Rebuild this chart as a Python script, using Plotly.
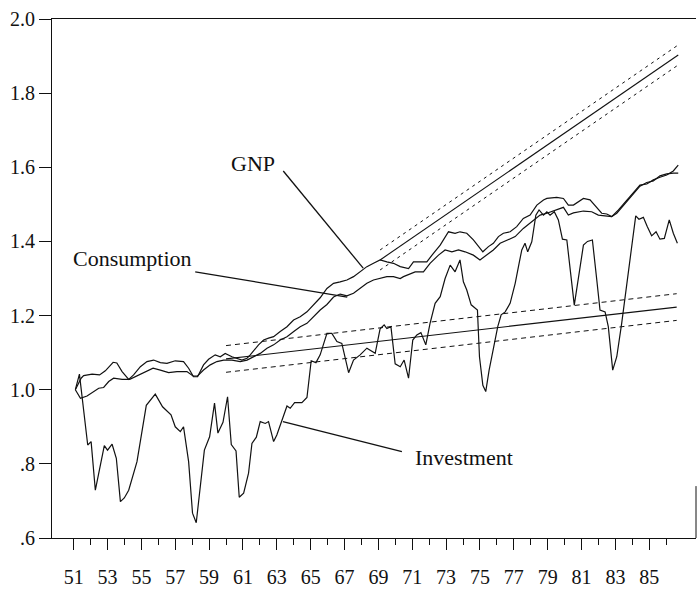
import plotly.graph_objects as go

# ---------------- data ----------------
gnp_years = [51.10, 51.44, 51.59, 52.09, 52.53, 52.87, 53.33, 53.55, 53.86, 54.25, 54.54, 54.94,
             55.33, 55.72, 56.12, 56.51, 57.00, 57.49, 57.79, 58.08, 58.32, 58.67, 58.97, 59.36,
             59.66, 59.95, 60.35, 60.65, 60.94, 61.24, 61.43, 61.92, 62.22, 62.51, 62.81, 63.20,
             63.60, 63.99, 64.38, 64.78, 65.17, 65.56, 65.96, 66.35, 66.74, 67.14, 67.53, 67.92,
             68.32, 68.71, 69.10, 69.50, 69.89, 70.29, 70.78, 71.07, 71.47, 71.86, 72.25, 72.65,
             73.14, 73.53, 73.82, 74.22, 74.61, 74.91, 75.17, 75.50, 75.79, 76.09, 76.38, 76.78,
             77.17, 77.56, 77.96, 78.36, 78.75, 78.95, 79.53, 79.93, 80.22, 80.52, 81.11, 81.50,
             82.19, 82.49, 82.78, 83.18, 83.67, 84.06, 84.45, 84.85, 85.24, 85.63, 86.03, 86.42,
             86.71]
gnp = [1.000, 1.031, 1.038, 1.042, 1.040, 1.051, 1.074, 1.072, 1.049, 1.028, 1.040, 1.062,
       1.076, 1.080, 1.073, 1.071, 1.078, 1.076, 1.058, 1.035, 1.035, 1.067, 1.082, 1.094,
       1.089, 1.098, 1.089, 1.085, 1.080, 1.085, 1.094, 1.121, 1.134, 1.139, 1.143, 1.157,
       1.170, 1.188, 1.197, 1.210, 1.228, 1.248, 1.273, 1.287, 1.291, 1.296, 1.305, 1.318,
       1.332, 1.341, 1.350, 1.345, 1.341, 1.332, 1.327, 1.345, 1.345, 1.345, 1.368, 1.390,
       1.426, 1.422, 1.426, 1.422, 1.404, 1.386, 1.372, 1.386, 1.395, 1.413, 1.422, 1.426,
       1.440, 1.462, 1.471, 1.498, 1.512, 1.516, 1.519, 1.516, 1.498, 1.498, 1.516, 1.512,
       1.476, 1.474, 1.467, 1.485, 1.512, 1.533, 1.552, 1.555, 1.566, 1.573, 1.579, 1.590,
       1.606]

cons_years = [51.10, 51.40, 51.79, 52.18, 52.48, 52.77, 53.07, 53.36, 53.86, 54.31, 54.74, 55.23,
              55.69, 56.12, 56.61, 57.10, 57.69, 58.05, 58.32, 58.67, 59.07, 59.46, 59.86, 60.35,
              60.84, 61.24, 61.63, 62.02, 62.42, 62.81, 63.20, 63.60, 64.00, 64.38, 64.78, 65.17,
              65.56, 65.96, 66.35, 66.74, 67.14, 67.53, 67.92, 68.32, 68.71, 69.10, 69.50, 69.89,
              70.29, 70.48, 71.17, 71.66, 72.05, 72.55, 72.94, 73.34, 73.73, 74.12, 74.61, 75.00,
              75.40, 75.79, 76.19, 76.68, 77.08, 77.56, 78.06, 78.55, 78.95, 79.53, 79.93, 80.22,
              80.52, 81.11, 81.60, 81.99, 82.49, 82.78, 83.08, 83.57, 84.06, 84.45, 84.85, 85.24,
              85.63, 86.03, 86.42, 86.71]
consumption = [1.000, 0.977, 0.983, 0.995, 1.004, 1.006, 1.022, 1.031, 1.028, 1.028, 1.037, 1.049,
               1.058, 1.053, 1.046, 1.049, 1.049, 1.037, 1.037, 1.053, 1.067, 1.076, 1.080, 1.080,
               1.076, 1.080, 1.089, 1.098, 1.112, 1.121, 1.134, 1.143, 1.157, 1.170, 1.179, 1.197,
               1.215, 1.230, 1.250, 1.258, 1.253, 1.260, 1.273, 1.287, 1.296, 1.300, 1.305, 1.305,
               1.300, 1.305, 1.318, 1.318, 1.341, 1.363, 1.377, 1.372, 1.377, 1.372, 1.363, 1.350,
               1.363, 1.377, 1.395, 1.404, 1.413, 1.435, 1.453, 1.471, 1.476, 1.485, 1.492, 1.471,
               1.477, 1.482, 1.480, 1.471, 1.469, 1.467, 1.476, 1.503, 1.530, 1.549, 1.559, 1.563,
               1.577, 1.582, 1.584, 1.584]

inv_years = [51.10, 51.34, 51.83, 52.03, 52.28, 52.81, 53.00, 53.27, 53.52, 53.76, 53.99, 54.25,
             54.74, 55.29, 55.82, 56.25, 56.75, 57.00, 57.30, 57.49, 57.79, 58.02, 58.24, 58.72,
             59.03, 59.32, 59.52, 59.82, 60.09, 60.31, 60.59, 60.78, 61.04, 61.33, 61.53, 61.79,
             62.02, 62.32, 62.51, 62.81, 63.00, 63.30, 63.60, 63.79, 64.05, 64.48, 64.78, 65.03,
             65.31, 65.56, 65.96, 66.25, 66.55, 66.84, 67.24, 67.53, 67.92, 68.32, 68.61, 68.81,
             69.10, 69.34, 69.50, 69.74, 69.99, 70.29, 70.52, 70.78, 71.03, 71.27, 71.51, 71.80,
             72.05, 72.35, 72.65, 72.94, 73.24, 73.53, 73.82, 74.02, 74.22, 74.48, 74.85, 74.97,
             75.17, 75.34, 75.54, 75.70, 75.89, 76.05, 76.25, 76.49, 76.78, 77.08, 77.31, 77.47,
             77.66, 77.82, 78.06, 78.30, 78.49, 78.75, 78.95, 79.14, 79.39, 79.63, 79.87, 80.13,
             80.57, 80.91, 81.11, 81.35, 81.64, 81.90, 82.09, 82.39, 82.58, 82.84, 83.08, 83.37,
             84.20, 84.39, 84.65, 84.88, 85.14, 85.40, 85.63, 85.89, 86.18, 86.42, 86.66]
investment = [1.000, 1.042, 0.851, 0.860, 0.729, 0.849, 0.837, 0.853, 0.815, 0.698, 0.708, 0.729,
              0.806, 0.958, 0.988, 0.954, 0.932, 0.900, 0.887, 0.900, 0.806, 0.667, 0.641, 0.837,
              0.873, 0.964, 0.883, 0.912, 0.981, 0.852, 0.835, 0.710, 0.721, 0.775, 0.855, 0.872,
              0.914, 0.909, 0.914, 0.860, 0.878, 0.918, 0.956, 0.950, 0.965, 0.965, 0.979, 1.078,
              1.073, 1.094, 1.152, 1.152, 1.130, 1.125, 1.046, 1.080, 1.094, 1.112, 1.103, 1.098,
              1.164, 1.175, 1.165, 1.170, 1.070, 1.062, 1.080, 1.031, 1.134, 1.148, 1.154, 1.121,
              1.179, 1.233, 1.251, 1.300, 1.336, 1.318, 1.350, 1.291, 1.269, 1.229, 1.215, 1.089,
              1.012, 0.995, 1.053, 1.089, 1.129, 1.170, 1.202, 1.210, 1.233, 1.287, 1.341, 1.377,
              1.395, 1.372, 1.399, 1.471, 1.485, 1.471, 1.480, 1.471, 1.480, 1.458, 1.406, 1.404,
              1.228, 1.332, 1.390, 1.400, 1.404, 1.296, 1.215, 1.210, 1.170, 1.053, 1.089, 1.179,
              1.469, 1.460, 1.465, 1.440, 1.415, 1.426, 1.406, 1.408, 1.458, 1.422, 1.395]

gnp_trend_years = [69.10, 86.71]
gnp_trend = [1.350, 1.903]
gnp_band = 0.027

inv_trend_years = [60.00, 86.62]
inv_trend = [1.083, 1.223]
inv_band = 0.036

y_tickvals = [0.6, 0.8, 1.0, 1.2, 1.4, 1.6, 1.8, 2.0]
y_ticktext = [".6", ".8", "1.0", "1.2", "1.4", "1.6", "1.8", "2.0"]
x_major = list(range(51, 86, 2))
x_minor = list(range(52, 87, 2))
x_ticktext = [str(v) for v in x_major]

FONT = "Liberation Serif"
BLACK = "#111111"

fig = go.Figure()

def add_line(x, y, width=1.2, dash="solid"):
    fig.add_trace(go.Scatter(x=x, y=y, mode="lines", showlegend=False, hoverinfo="skip",
                             line=dict(color=BLACK, width=width, dash=dash)))

# trend lines with bands
add_line(gnp_trend_years, gnp_trend, 1.1)
add_line(gnp_trend_years, [v + gnp_band for v in gnp_trend], 1.0, "3px,4px")
add_line(gnp_trend_years, [v - gnp_band for v in gnp_trend], 1.0, "3px,4px")
add_line(inv_trend_years, inv_trend, 1.2)
add_line(inv_trend_years, [v + inv_band for v in inv_trend], 1.0, "5px,4px")
add_line(inv_trend_years, [v - inv_band for v in inv_trend], 1.0, "5px,4px")

# series
add_line(gnp_years, gnp, 1.2)
add_line(cons_years, consumption, 1.2)
add_line(inv_years, investment, 1.2)

# labels with pointer lines
labels = [
    ("GNP", 61.61, 1.609, 63.38, 1.590, 68.10, 1.328),
    ("Consumption", 54.46, 1.355, 58.18, 1.318, 67.16, 1.250),
    ("Investment", 74.07, 0.818, 63.36, 0.914, 70.39, 0.833),
]
for text, tx, ty, x0, y0, x1, y1 in labels:
    fig.add_annotation(x=tx, y=ty, xref="x", yref="y", text=text, showarrow=False,
                       font=dict(family=FONT, size=22, color=BLACK))
    fig.add_shape(type="line", xref="x", yref="y", x0=x0, y0=y0, x1=x1, y1=y1,
                  line=dict(color=BLACK, width=1.3))

# partial right frame edge
fig.add_shape(type="line", xref="paper", yref="y", x0=1, x1=1, y0=0.6, y1=0.74,
              line=dict(color=BLACK, width=1))

fig.update_layout(
    width=697, height=593,
    margin=dict(l=52, r=1, t=19, b=55, autoexpand=False),
    paper_bgcolor="white", plot_bgcolor="white",
    font=dict(family=FONT, size=20, color=BLACK),
    showlegend=False,
)
fig.update_xaxes(
    range=[49.72, 87.76], showgrid=False, zeroline=False, automargin=False,
    showline=True, linecolor=BLACK, linewidth=1, mirror=True,
    tickmode="array", tickvals=x_major, ticktext=x_ticktext,
    ticks="outside", ticklen=11, tickwidth=1, tickcolor=BLACK,
    ticklabelstandoff=10,
    minor=dict(tickmode="array", tickvals=x_minor, ticks="outside", ticklen=6,
               tickwidth=1, tickcolor=BLACK, showgrid=False),
    tickfont=dict(family=FONT, size=20, color=BLACK),
)
fig.update_yaxes(
    range=[0.6, 2.0], showgrid=False, zeroline=False, automargin=False,
    showline=True, linecolor=BLACK, linewidth=1,
    tickmode="array", tickvals=y_tickvals, ticktext=y_ticktext,
    ticks="outside", ticklen=12, tickwidth=1, tickcolor=BLACK,
    tickfont=dict(family=FONT, size=20, color=BLACK),
)

fig.write_html("out.html", config={"displayModeBar": False},
               post_script="document.body.style.margin='0px';document.body.style.overflow='hidden';")
